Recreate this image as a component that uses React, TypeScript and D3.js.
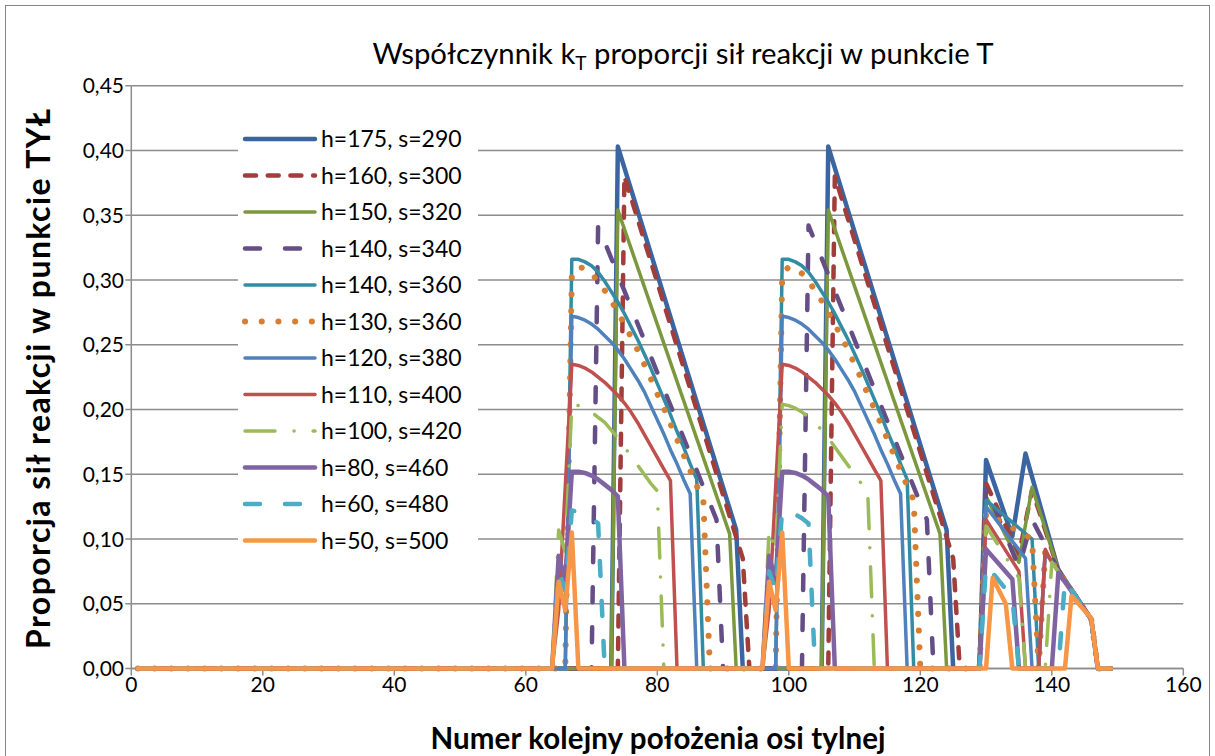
import React from "react";
import * as d3 from "d3";

type Pt = [number, number];

const xTickValues = [0, 20, 40, 60, 80, 100, 120, 140, 160];
const yTickValues = [0, 0.05, 0.1, 0.15, 0.2, 0.25, 0.3, 0.35, 0.4, 0.45];

const seriesLabels = [
  "h=175, s=290",
  "h=160, s=300",
  "h=150, s=320",
  "h=140, s=340",
  "h=140, s=360",
  "h=130, s=360",
  "h=120, s=380",
  "h=110, s=400",
  "h=100, s=420",
  "h=80, s=460",
  "h=60, s=480",
  "h=50, s=500",
];

const s175_290: Pt[] = [
  [1, 0], [73, 0], [74, 0.403], [92, 0.107], [93, 0],
  [105, 0], [106, 0.403], [124, 0.107], [125, 0],
  [129, 0], [130, 0.161], [134, 0.102], [136, 0.166], [141, 0.076], [146, 0.038], [147, 0], [149, 0],
];
const s160_300: Pt[] = [
  [1, 0], [74, 0], [75, 0.38], [93, 0.085], [94, 0],
  [106, 0], [107, 0.38], [125, 0.085], [126, 0],
  [129, 0], [130, 0.143], [135, 0.088], [137, 0.138], [141, 0.076], [146, 0.038], [147, 0], [149, 0],
];
const s150_320: Pt[] = [
  [1, 0], [73, 0], [74, 0.354], [91, 0.104], [92, 0],
  [105, 0], [106, 0.354], [123, 0.104], [124, 0],
  [129, 0], [130, 0.133], [135, 0.082], [137, 0.14], [141, 0.076], [146, 0.038], [147, 0], [149, 0],
];
const s140_340: Pt[] = [
  [1, 0], [70, 0], [71, 0.342], [89, 0.115], [90, 0],
  [102, 0], [103, 0.342], [121, 0.115], [122, 0],
  [129, 0], [130, 0.14], [135, 0.078], [137, 0.115], [141, 0.076], [146, 0.038], [147, 0], [149, 0],
];
const s140_360: Pt[] = [
  [1, 0], [66, 0], [67, 0.316], [68, 0.316], [69, 0.314], [70, 0.311], [71, 0.306], [72, 0.299],
  [73, 0.291], [74, 0.283], [75, 0.274], [76, 0.264], [77, 0.254], [78, 0.243], [79, 0.232],
  [80, 0.22], [81, 0.208], [82, 0.196], [83, 0.183], [84, 0.171], [85, 0.158], [86, 0.146], [87, 0],
  [98, 0], [99, 0.316], [100, 0.316], [101, 0.314], [102, 0.311], [103, 0.306], [104, 0.299],
  [105, 0.291], [106, 0.283], [107, 0.274], [108, 0.264], [109, 0.254], [110, 0.243], [111, 0.232],
  [112, 0.22], [113, 0.208], [114, 0.196], [115, 0.183], [116, 0.171], [117, 0.158], [118, 0.146], [119, 0],
  [129, 0], [130, 0.13], [137, 0.1], [138, 0], [139, 0.09], [141, 0.075], [146, 0.038], [147, 0], [149, 0],
];
const s130_360: Pt[] = [
  [1, 0], [66, 0], [67, 0.305], [68, 0.31], [69, 0.309], [70, 0.305], [71, 0.299], [72, 0.292],
  [73, 0.284], [74, 0.275], [75, 0.266], [76, 0.256], [77, 0.246], [78, 0.235], [79, 0.224],
  [80, 0.212], [81, 0.201], [82, 0.189], [83, 0.177], [84, 0.165], [85, 0.153], [86, 0.141], [87, 0.13], [88, 0],
  [98, 0], [99, 0.305], [100, 0.31], [101, 0.309], [102, 0.305], [103, 0.299], [104, 0.292],
  [105, 0.284], [106, 0.275], [107, 0.266], [108, 0.256], [109, 0.246], [110, 0.235], [111, 0.224],
  [112, 0.212], [113, 0.201], [114, 0.189], [115, 0.177], [116, 0.165], [117, 0.153], [118, 0.141], [119, 0.13], [120, 0],
  [129, 0], [130, 0.12], [137, 0.1], [138, 0], [139, 0.09], [141, 0.075], [146, 0.038], [147, 0], [149, 0],
];
const s120_380: Pt[] = [
  [1, 0], [66, 0], [67, 0.272], [68, 0.271], [69, 0.269], [70, 0.266], [71, 0.262], [72, 0.257],
  [73, 0.252], [74, 0.246], [75, 0.239], [76, 0.231], [77, 0.223], [78, 0.214], [79, 0.203],
  [80, 0.192], [81, 0.181], [82, 0.169], [83, 0.158], [84, 0.146], [85, 0.135], [86, 0],
  [98, 0], [99, 0.272], [100, 0.271], [101, 0.269], [102, 0.266], [103, 0.262], [104, 0.257],
  [105, 0.252], [106, 0.246], [107, 0.239], [108, 0.231], [109, 0.223], [110, 0.214], [111, 0.203],
  [112, 0.192], [113, 0.181], [114, 0.169], [115, 0.158], [116, 0.146], [117, 0.135], [118, 0],
  [129, 0], [130, 0.125], [136, 0.085], [137, 0], [138, 0], [139, 0.09], [141, 0.075], [146, 0.038], [147, 0], [149, 0],
];
const s110_400: Pt[] = [
  [1, 0], [64, 0], [65, 0.045], [66, 0.14], [67, 0.235], [68, 0.234], [69, 0.232], [70, 0.229],
  [71, 0.225], [72, 0.221], [73, 0.216], [74, 0.211], [75, 0.205], [76, 0.198], [77, 0.19],
  [78, 0.181], [79, 0.172], [80, 0.163], [81, 0.154], [82, 0.145], [83, 0],
  [96, 0], [97, 0.045], [98, 0.14], [99, 0.235], [100, 0.234], [101, 0.232], [102, 0.229],
  [103, 0.225], [104, 0.221], [105, 0.216], [106, 0.211], [107, 0.205], [108, 0.198], [109, 0.19],
  [110, 0.181], [111, 0.172], [112, 0.163], [113, 0.154], [114, 0.145], [115, 0],
  [129, 0], [130, 0.115], [135, 0.075], [136, 0], [138, 0], [139, 0.092], [140, 0.082], [141, 0.075],
  [146, 0.038], [147, 0], [149, 0],
];
const s100_420: Pt[] = [
  [1, 0], [64, 0], [65, 0.107], [66, 0.09], [67, 0.204], [68, 0.203], [69, 0.201], [70, 0.198],
  [71, 0.194], [72, 0.19], [73, 0.184], [74, 0.178], [75, 0.171], [76, 0.164], [77, 0.157],
  [78, 0.15], [79, 0.143], [80, 0.137], [81, 0],
  [96, 0], [97, 0.107], [98, 0.09], [99, 0.204], [100, 0.203], [101, 0.201], [102, 0.198],
  [103, 0.194], [104, 0.19], [105, 0.184], [106, 0.178], [107, 0.171], [108, 0.164], [109, 0.157],
  [110, 0.15], [111, 0.143], [112, 0.137], [113, 0],
  [129, 0], [130, 0.11], [135, 0.07], [136, 0], [139, 0], [140, 0.082], [141, 0.075],
  [146, 0.038], [147, 0], [149, 0],
];
const s80_460: Pt[] = [
  [1, 0], [64, 0], [65, 0.087], [66, 0.068], [67, 0.152], [68, 0.152], [69, 0.151], [70, 0.149],
  [71, 0.146], [72, 0.142], [73, 0.138], [74, 0.133], [75, 0],
  [96, 0], [97, 0.087], [98, 0.068], [99, 0.152], [100, 0.152], [101, 0.151], [102, 0.149],
  [103, 0.146], [104, 0.142], [105, 0.138], [106, 0.133], [107, 0],
  [129, 0], [130, 0.092], [134, 0.069], [135, 0], [140, 0], [141, 0.074], [146, 0.038], [147, 0], [149, 0],
];
const s60_480: Pt[] = [
  [1, 0], [64, 0], [65, 0.075], [66, 0.06], [67, 0.122], [68, 0.121], [69, 0.119], [70, 0.116],
  [71, 0.112], [72, 0],
  [96, 0], [97, 0.075], [98, 0.06], [99, 0.122], [100, 0.121], [101, 0.119], [102, 0.116],
  [103, 0.112], [104, 0],
  [129, 0], [130, 0.08], [134, 0.055], [135, 0], [141, 0], [142, 0.068], [146, 0.038], [147, 0], [149, 0],
];
const s50_500: Pt[] = [
  [1, 0], [64, 0], [65, 0.067], [66, 0.045], [67, 0.105], [68, 0],
  [96, 0], [97, 0.067], [98, 0.045], [99, 0.105], [100, 0],
  [130, 0], [131, 0.07], [133, 0.05], [134, 0], [142, 0], [143, 0.056], [146, 0.039], [147, 0], [149, 0],
];

const seriesData: Pt[][] = [
  s175_290, s160_300, s150_320, s140_340, s140_360, s130_360,
  s120_380, s110_400, s100_420, s80_460, s60_480, s50_500,
];

const seriesStyles = [
  { color: "#3b65a0", width: 4.5, dash: "" },
  { color: "#a13d3b", width: 4.5, dash: "11 11.7" },
  { color: "#7b983e", width: 3.5, dash: "" },
  { color: "#654e86", width: 4.5, dash: "15 25" },
  { color: "#338ca4", width: 3.5, dash: "" },
  { color: "#d67e31", width: 6, dash: "0.1 16.6" },
  { color: "#4f81bd", width: 3.5, dash: "" },
  { color: "#c0504d", width: 3.5, dash: "" },
  { color: "#9bbb59", width: 3.5, dash: "30 19 0.1 19" },
  { color: "#8064a2", width: 4.5, dash: "" },
  { color: "#4bacc6", width: 4.5, dash: "15 25" },
  { color: "#f79646", width: 4.5, dash: "" },
];

const W = 1215;
const H = 756;
const PL = 131.3;
const PR = 1183.3;
const PT = 85.75;
const PB = 668.5;
const FONT = "Lato, 'Open Sans', sans-serif";

export default function App() {
  const x = d3.scaleLinear().domain([0, 160]).range([PL, PR]);
  const y = d3.scaleLinear().domain([0, 0.45]).range([PB, PT]);
  const line = d3
    .line<Pt>()
    .x((d) => x(d[0]))
    .y((d) => y(d[1]));
  const locale = d3.formatLocale({
    decimal: ",",
    thousands: " ",
    grouping: [3],
    currency: ["", ""],
  });
  const fmt = locale.format(".2f");

  const legX = 245;
  const legY0 = 139;
  const legDY = 36.5;

  return (
    <svg
      width={W}
      height={H}
      style={{ position: "absolute", left: 0, top: 0, background: "#fff" }}
      fontFamily={FONT}
    >
      <rect x={0} y={0} width={W} height={H} fill="#fff" />
      <rect x={5.5} y={5.5} width={1204} height={770} fill="none" stroke="#868686" strokeWidth={1} />

      {/* gridlines */}
      {yTickValues.map((v) => (
        <line key={"g" + v} x1={PL} x2={PR} y1={y(v)} y2={y(v)} stroke="#8c8c8c" strokeWidth={1.5} />
      ))}
      {/* y axis */}
      <line x1={PL} x2={PL} y1={PT} y2={PB} stroke="#8c8c8c" strokeWidth={1.5} />
      {yTickValues.map((v) => (
        <line key={"yt" + v} x1={PL - 6} x2={PL} y1={y(v)} y2={y(v)} stroke="#8c8c8c" strokeWidth={1.5} />
      ))}
      {yTickValues.map((v) => (
        <text key={"yl" + v} x={124} y={y(v) + 7.5} textAnchor="end" fontSize={21} fill="#000">
          {fmt(v)}
        </text>
      ))}
      {/* x axis */}
      <line x1={PL} x2={PR} y1={PB} y2={PB} stroke="#8c8c8c" strokeWidth={1.5} />
      {xTickValues.map((v) => (
        <line key={"xt" + v} x1={x(v)} x2={x(v)} y1={PB} y2={PB + 7} stroke="#8c8c8c" strokeWidth={1.5} />
      ))}
      {xTickValues.map((v) => (
        <text key={"xl" + v} x={x(v)} y={692} textAnchor="middle" fontSize={21} fill="#000">
          {v}
        </text>
      ))}

      {/* series */}
      {seriesData.map((d, i) => (
        <path
          key={"s" + i}
          d={line(d) || ""}
          fill="none"
          stroke={seriesStyles[i].color}
          strokeWidth={seriesStyles[i].width}
          strokeDasharray={seriesStyles[i].dash || undefined}
          strokeLinecap="round"
          strokeLinejoin="round"
        />
      ))}

      {/* legend */}
      <rect x={238} y={121} width={240} height={437} fill="#fff" />
      {seriesLabels.map((lab, i) => {
        const cy = legY0 + i * legDY;
        const st = seriesStyles[i];
        return (
          <g key={"l" + i}>
            <line
              x1={legX}
              x2={legX + 70}
              y1={cy}
              y2={cy}
              stroke={st.color}
              strokeWidth={st.width}
              strokeDasharray={st.dash || undefined}
              strokeLinecap="round"
            />
            <text x={321} y={cy + 8} fontSize={23} fill="#000">
              {lab}
            </text>
          </g>
        );
      })}

      {/* title */}
      <text x={683} y={64} textAnchor="middle" fontSize={29.3} fill="#000">
        Współczynnik k
        <tspan fontSize={19} dy={6}>T</tspan>
        <tspan dy={-6}> proporcji sił reakcji w punkcie T</tspan>
      </text>

      {/* axis titles */}
      <text
        x={658}
        y={749}
        textAnchor="middle"
        fontSize={29.5}
        fontWeight="bold"
        fill="#000"
        textLength={455}
        lengthAdjust="spacing"
      >
        Numer kolejny położenia osi tylnej
      </text>
      <text
        transform="translate(50,379) rotate(-90)"
        textAnchor="middle"
        fontSize={32}
        fontWeight="bold"
        fill="#000"
        textLength={540}
        lengthAdjust="spacing"
      >
        Proporcja sił reakcji w punkcie TYŁ
      </text>
    </svg>
  );
}
